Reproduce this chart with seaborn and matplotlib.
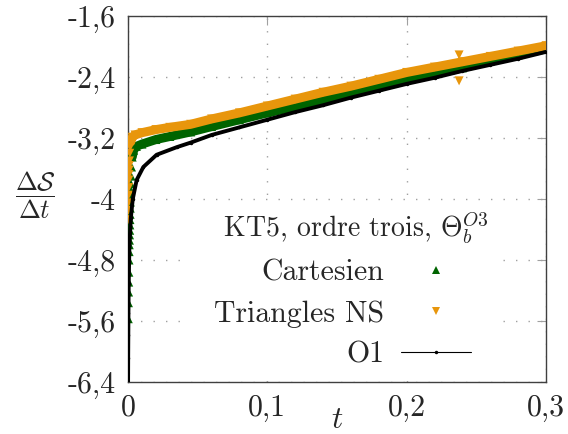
import matplotlib
matplotlib.use('Agg')
import matplotlib.pyplot as plt
from matplotlib.lines import Line2D
import pandas as pd
import seaborn as sns

# Cartesien (triangles verts)
t_cart = [0.0002, 0.0003, 0.0004, 0.0005, 0.0006, 0.0007, 0.0008, 0.0009, 0.001,
          0.0011, 0.0012, 0.0013, 0.0014, 0.0015, 0.0016, 0.0017, 0.0018, 0.0019,
          0.002, 0.0022, 0.0025, 0.003, 0.004, 0.006, 0.01, 0.02, 0.03, 0.045,
          0.06, 0.08, 0.1, 0.12, 0.14, 0.16, 0.18, 0.2, 0.22, 0.24, 0.26, 0.28, 0.3]
v_cart = [-5.57, -5.36, -5.22, -5.09, -4.96, -4.80, -4.69, -4.60, -4.54,
          -4.47, -4.41, -4.34, -4.27, -4.20, -4.12, -4.04, -3.96, -3.88,
          -3.80, -3.70, -3.58, -3.45, -3.36, -3.31, -3.28, -3.22, -3.18, -3.12,
          -3.05, -2.96, -2.87, -2.79, -2.70, -2.61, -2.53, -2.44, -2.36, -2.28, -2.19, -2.11, -2.03]

# Triangles NS (triangles orange)
t_ns = [0.0001, 0.0002, 0.0003, 0.0004, 0.0005, 0.0006, 0.0007, 0.0008, 0.0009, 0.001,
        0.0012, 0.0015, 0.002, 0.003, 0.005, 0.01, 0.02, 0.03, 0.045, 0.06, 0.08,
        0.1, 0.12, 0.14, 0.16, 0.18, 0.2, 0.22, 0.24, 0.26, 0.28, 0.3]
v_ns = [-4.27, -4.15, -4.05, -3.95, -3.85, -3.75, -3.68, -3.62, -3.56, -3.50,
        -3.40, -3.32, -3.25, -3.19, -3.16, -3.13, -3.09, -3.06, -3.02, -2.95, -2.87,
        -2.78, -2.69, -2.60, -2.52, -2.43, -2.34, -2.27, -2.20, -2.13, -2.06, -1.99]
# deux points isoles vers t = 0,24
t_ns_pic = [0.2376, 0.2376]
v_ns_pic = [-2.11, -2.45]

# O1 (ligne noire)
t_o1 = [0.0, 0.0001, 0.0002, 0.0003, 0.0005, 0.001, 0.002, 0.0034, 0.0062, 0.011,
        0.0205, 0.035, 0.045, 0.06, 0.08, 0.1, 0.12, 0.14, 0.16, 0.18, 0.2,
        0.22, 0.24, 0.26, 0.28, 0.3]
v_o1 = [-6.6, -6.08, -5.78, -5.5, -5.1, -4.6, -4.25, -4.0, -3.75, -3.58,
        -3.42, -3.32, -3.26, -3.16, -3.06, -2.96, -2.86, -2.77, -2.67, -2.58, -2.49,
        -2.41, -2.32, -2.24, -2.16, -2.07]

x_ticks = [0, 0.1, 0.2, 0.3]
x_labels = ['0', '0,1', '0,2', '0,3']
y_ticks = [-6.4, -5.6, -4.8, -4.0, -3.2, -2.4, -1.6]
y_labels = ['-6,4', '-5,6', '-4,8', '-4', '-3,2', '-2,4', '-1,6']

VERT = '#006400'
ORANGE = '#e8960c'
FS = 21.5

sns.set_style('white')
plt.rcParams['font.family'] = ['cmr10', 'DejaVu Serif']
plt.rcParams['mathtext.fontset'] = 'cm'
plt.rcParams['axes.unicode_minus'] = False

cart = pd.DataFrame({'t': t_cart, 'v': v_cart})
ns = pd.DataFrame({'t': t_ns, 'v': v_ns})
o1 = pd.DataFrame({'t': t_o1, 'v': v_o1})

fig = plt.figure(figsize=(5.68, 4.34), dpi=100)
ax = fig.add_axes([0.2254, 0.1198, 0.7359, 0.8433])

# bandes continues (marqueurs tres serres dans l'original)
band_c = cart[cart['t'] >= 0.003]
sns.lineplot(data=band_c, x='t', y='v', color=VERT, lw=6.5, sort=False, ax=ax, zorder=3)
sns.scatterplot(data=cart, x='t', y='v', marker='^', s=42, color=VERT,
                edgecolor='none', ax=ax, zorder=3)

band_n = ns[ns['t'] >= 0.002]
sns.lineplot(data=band_n, x='t', y='v', color=ORANGE, lw=6.5, sort=False, ax=ax, zorder=4)
sns.scatterplot(data=ns, x='t', y='v', marker='v', s=42, color=ORANGE,
                edgecolor='none', ax=ax, zorder=4)
sns.scatterplot(x=t_ns_pic, y=v_ns_pic, marker='v', s=42, color=ORANGE,
                edgecolor='none', ax=ax, zorder=4)

sns.lineplot(data=o1, x='t', y='v', color='black', lw=2.8, sort=False,
             marker='o', markersize=2.5, markeredgewidth=0, ax=ax, zorder=5)

ax.set_xlim(0, 0.3)
ax.set_ylim(-6.4, -1.6)
ax.set_xticks(x_ticks)
ax.set_xticklabels(x_labels)
ax.set_yticks(y_ticks)
ax.set_yticklabels(y_labels)
ax.tick_params(direction='in', length=6.5, width=0.8, color='#a0a0a0',
               labelsize=FS, top=True, right=True, pad=9)
ax.grid(True, linestyle=(0, (1, 8)), color='#a0a0a0', lw=1)
for sp in ax.spines.values():
    sp.set_color('#404040')
    sp.set_linewidth(1)

ax.set_xlabel('$t$', fontsize=FS + 1)
ax.xaxis.set_label_coords(0.5, -0.104)
ax.xaxis.label.set_va('center')
ax.set_ylabel(r'$\dfrac{\Delta\mathcal{S}}{\Delta t}$', fontsize=19, rotation=0)
ax.yaxis.set_label_coords(-0.222, 0.511)
ax.yaxis.label.set_va('center')
ax.yaxis.label.set_ha('center')

handles = [
    Line2D([], [], linestyle='none', marker='^', markersize=6, color=VERT, markeredgewidth=0),
    Line2D([], [], linestyle='none', marker='v', markersize=6, color=ORANGE, markeredgewidth=0),
    Line2D([], [], color='black', lw=0.8, marker='o', markersize=2.5, markeredgewidth=0),
]
leg = ax.legend(handles, ['Cartesien', 'Triangles NS', 'O1'],
                title=r'$\hspace{1.1}$KT5, ordre trois, $\Theta_b^{O3}$',
                loc='center', bbox_to_anchor=(0.513, 0.253),
                markerfirst=False, fontsize=FS, title_fontsize=20,
                frameon=True, facecolor='white', edgecolor='none', framealpha=1,
                handlelength=2.35, handletextpad=0.55, labelspacing=0.45,
                borderpad=0.3, fancybox=False)
leg.set_zorder(10)

fig.savefig('out.png', dpi=100)
